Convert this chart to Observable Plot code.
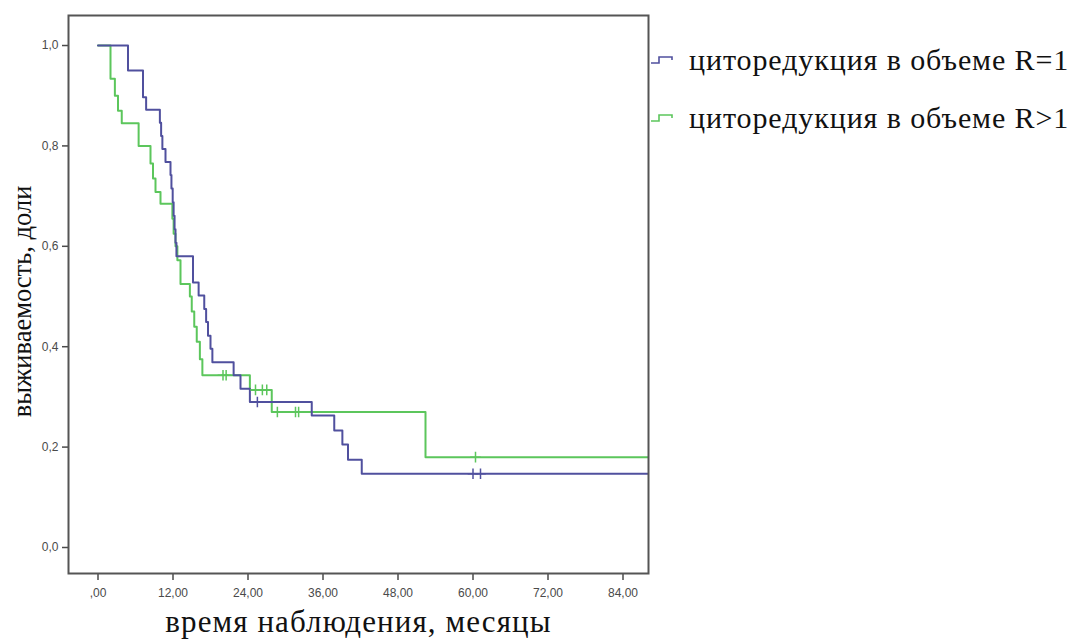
<!DOCTYPE html>
<html>
<head>
<meta charset="utf-8">
<script src="https://cdn.jsdelivr.net/npm/d3@7"></script>
<script src="https://cdn.jsdelivr.net/npm/@observablehq/plot@0.6"></script>
<style>
  html, body { margin: 0; padding: 0; background: #fff; }
  #wrap { position: relative; width: 1072px; height: 639px; overflow: hidden; }
  .leg { position: absolute; font-family: "Liberation Serif", "Times New Roman", serif; font-size: 30px; letter-spacing: 0.9px; color: #111; white-space: nowrap; line-height: 1; }
  .leg svg { position: absolute; }
</style>
</head>
<body>
<div id="wrap"></div>
<script>
// ---- data ----
const seriesNames = ["циторедукция в объеме R=1", "циторедукция в объеме R>1"];
const seriesColors = ["#50509e", "#5cc65c"];

// R=1 (blue) Kaplan–Meier steps
const blueT = [0, 4.8, 7.2, 7.7, 9.9, 10.1, 10.3, 10.8, 11.6, 11.75, 11.95, 12.1, 12.25, 12.4, 12.55, 15.2, 16.1, 17.0, 17.3, 17.6, 18.0, 18.3, 21.7, 22.8, 24.3, 34.2, 37.8, 39.1, 40.0, 42.2, 88.0];
const blueS = [1.0, 0.95, 0.897, 0.872, 0.846, 0.82, 0.794, 0.768, 0.742, 0.715, 0.688, 0.661, 0.634, 0.607, 0.58, 0.528, 0.502, 0.475, 0.449, 0.422, 0.396, 0.369, 0.343, 0.316, 0.29, 0.263, 0.233, 0.205, 0.175, 0.147, 0.147];
// R>1 (green) Kaplan–Meier steps
const greenT = [0, 2.0, 2.7, 3.2, 3.8, 6.5, 8.4, 8.8, 9.2, 10.0, 11.9, 12.1, 12.4, 12.7, 13.2, 14.7, 15.0, 15.4, 15.8, 16.3, 16.7, 24.3, 27.8, 52.4, 88.0];
const greenS = [1.0, 0.934, 0.90, 0.87, 0.845, 0.80, 0.765, 0.735, 0.708, 0.685, 0.655, 0.625, 0.60, 0.572, 0.525, 0.50, 0.47, 0.44, 0.41, 0.375, 0.343, 0.314, 0.27, 0.18, 0.18];

// censored observations
const blueCensT = [25.5, 60.0, 61.2];
const blueCensS = [0.29, 0.147, 0.147];
const greenCensT = [20.0, 20.5, 25.2, 26.3, 27.0, 28.7, 31.6, 32.1, 60.4];
const greenCensS = [0.343, 0.343, 0.314, 0.314, 0.314, 0.27, 0.27, 0.27, 0.18];

// axes
const xTicks = [0, 12, 24, 36, 48, 60, 72, 84];
const xTickLabels = [",00", "12,00", "24,00", "36,00", "48,00", "60,00", "72,00", "84,00"];
const yTicks = [0, 0.2, 0.4, 0.6, 0.8, 1.0];
const yTickLabels = ["0,0", "0,2", "0,4", "0,6", "0,8", "1,0"];
const xTitle = "время наблюдения, месяцы";
const yTitle = "выживаемость, доли";

// ---- build tables ----
const toRows = (T, S) => T.map((t, i) => ({t, s: S[i]}));
const blue = toRows(blueT, blueS);
const green = toRows(greenT, greenS);
const blueC = toRows(blueCensT, blueCensS);
const greenC = toRows(greenCensT, greenCensS);

const serif = "'Liberation Serif', 'Times New Roman', serif";

const chart = Plot.plot({
  width: 1072,
  height: 639,
  marginLeft: 68,
  marginRight: 424,
  marginTop: 15,
  marginBottom: 66,
  style: {fontFamily: "'Liberation Sans', Arial, sans-serif", fontSize: "12px", color: "#4a4a4a", background: "#fff"},
  x: {domain: [-4.72, 88.08]},
  y: {domain: [-0.0518, 1.0598]},
  marks: [
    Plot.axisX({ticks: xTicks, tickFormat: d => xTickLabels[xTicks.indexOf(d)], tickSize: 7, tickPadding: 8, label: null, fontSize: 12, strokeWidth: 1.5}),
    Plot.axisY({ticks: yTicks, tickFormat: d => yTickLabels[yTicks.findIndex(v => Math.abs(v - d) < 1e-9)], tickSize: 6, tickPadding: 4, label: null, fontSize: 12, strokeWidth: 1.5}),
    Plot.line(green, {x: "t", y: "s", curve: "step-after", stroke: seriesColors[1], strokeWidth: 2}),
    Plot.line(blue, {x: "t", y: "s", curve: "step-after", stroke: seriesColors[0], strokeWidth: 2}),
    Plot.dot(greenC, {x: "t", y: "s", symbol: "plus", r: 3.5, stroke: seriesColors[1], strokeWidth: 1.5}),
    Plot.dot(blueC, {x: "t", y: "s", symbol: "plus", r: 3.5, stroke: seriesColors[0], strokeWidth: 1.5}),
    Plot.frame({stroke: "#555", strokeWidth: 2}),
    Plot.text([xTitle], {frameAnchor: "bottom", dy: 49, lineAnchor: "middle", textAnchor: "middle", fontFamily: serif, fontSize: 31, fill: "#111", style: {letterSpacing: "1.1px"}}),
    Plot.text([yTitle], {frameAnchor: "left", dx: -46, dy: 7, rotate: -90, lineAnchor: "middle", textAnchor: "middle", fontFamily: serif, fontSize: 26.5, fill: "#111"})
  ]
});
const wrap = document.getElementById("wrap");
wrap.appendChild(chart);
// letter spacing on the x title
chart.querySelectorAll("text").forEach(t => { if (t.textContent === xTitle) t.setAttribute("letter-spacing", "1.1"); });

// legend
const legendRows = [{top: 45}, {top: 103}];
seriesNames.forEach((name, i) => {
  const row = document.createElement("div");
  row.className = "leg";
  row.style.left = "650px";
  row.style.top = legendRows[i].top + "px";
  row.style.height = "32px";
  row.style.width = "422px";
  row.innerHTML = `<svg width="26" height="32" style="left:0;top:0"><path d="M1,18 H9 V12 H22 V15" fill="none" stroke="${seriesColors[i]}" stroke-width="1.6"/></svg><span style="position:absolute;left:39px;top:0">${name}</span>`;
  wrap.appendChild(row);
});
</script>
</body>
</html>
